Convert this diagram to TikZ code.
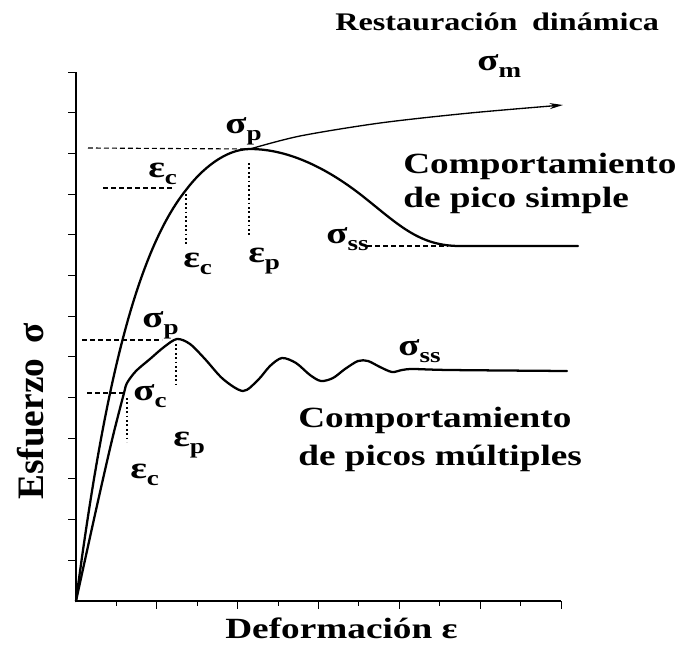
\documentclass[tikz,border=0pt]{standalone}
\usepackage{fontspec}
\setmainfont{Liberation Serif}
\usetikzlibrary{positioning,arrows.meta}
\tikzset{flow/.style={line width=1.7pt,line join=round,line cap=round},
	 guide/.style={line width=0.85pt,dash pattern=on 3.6pt off 2.4pt},
	 drop/.style={line width=1.4pt,dash pattern=on 1.3pt off 2pt},
	 symb/.style={font=\bfseries\fontsize{23}{23}\selectfont,xscale=1.27,anchor=base west,inner sep=0pt},
	 textlbl/.style={font=\bfseries\fontsize{22}{22}\selectfont,xscale=1.27,anchor=base west,inner sep=0pt}
	 }
\newcommand{\lsub}[1]{\raisebox{-.25em}{\fontsize{16}{16}\selectfont #1}}

\begin{document}
\begin{tikzpicture}[x=0.75pt,y=-0.75pt] % curvas esfuerzo-deformacion
	\useasboundingbox (0,0) rectangle (682,644);
	\coordinate (O) at (76,601); \coordinate (ytop) at (76,72); \coordinate (xend) at (561,601);
	\draw[line width=0.8pt] (ytop) -- (O) -- (xend);
	\foreach \k in {1,...,13} \draw[line width=0.8pt] (76,601-40.69*\k) -- ++(-8,0);
	\foreach \k in {2,4,...,12} \draw[line width=0.8pt] (76+40.42*\k,601) -- ++(0,8);
	\foreach \k in {1,3,...,11} \draw[line width=0.8pt] (76+40.42*\k,601) -- ++(0,5);
	% pico simple
	\coordinate (pk1) at (250,149); \coordinate (cr1) at (186,190); \coordinate (dn1) at (365,198);
	\coordinate (ss1) at (460,246); \coordinate (e1) at (578,246); \coordinate (mend) at (563,105);
	\draw[flow] (O) .. controls (100,420) and (130,260) .. (cr1)
		.. controls (201,170) and (225,149) .. (pk1)
		.. controls (290,149) and (330,170) .. (dn1)
		.. controls (400,226) and (420,246) .. (ss1) -- (e1);
	\draw[line width=1pt,-{Stealth[length=10pt,width=4.5pt]}] plot[smooth] coordinates {(pk1) (300,136) (380,123) (470,113) (mend)};
	\coordinate (g1) at (88,148); \coordinate (g2) at (103,188); \coordinate (g3) at (172,188);
	\coordinate (d1) at (186,194); \coordinate (d2) at (186,245);
	\coordinate (d3) at (249,163); \coordinate (d4) at (249,235);
	\coordinate (g4) at (367,246); \coordinate (g5) at (448,246);
	\draw[guide] (g1) -- (pk1); \draw[guide] (g2) -- (g3); \draw[guide] (g4) -- (g5);
	\draw[drop] (d1) -- (d2); \draw[drop] (d3) -- (d4);
	% picos multiples
	\coordinate (pk2) at (177,339); \coordinate (cr2) at (124,393);
	\coordinate (ss2) at (413,369); \coordinate (e2) at (567,371);
	\draw[flow] plot[smooth,tension=.5] coordinates {(O) (96,510) (112,440) (cr2) (127,383) (136,371) (150,359) (164,347) (pk2) (190,344) (205,359) (223,379) (243,391) (258,380) (270,366) (282,358) (296,363) (310,375) (321,381) (333,378) (345,369) (358,361) (368,361) (380,367) (392,372) (402,370) (ss2) (450,370) (e2)};
	\coordinate (h1) at (82,340); \coordinate (h2) at (162,340);
	\coordinate (h3) at (87,393); \coordinate (h4) at (125,393);
	\coordinate (v1) at (127,398); \coordinate (v2) at (127,442);
	\coordinate (v3) at (176,344); \coordinate (v4) at (176,387);
	\draw[guide] (h1) -- (h2); \draw[guide] (h3) -- (h4);
	\draw[drop] (v1) -- (v2); \draw[drop] (v3) -- (v4);
	% etiquetas
	\node[symb] (smx) at (477,70) {σ\lsub{m}};
	\node[symb] (sp1) at (225,133) {σ\lsub{p}};
	\node[symb] (ec1) at (148,177) {ε\lsub{c}};
	\node[symb] (ec1b) at (183,267) {ε\lsub{c}};
	\node[symb] (ep1) at (248,262) {ε\lsub{p}};
	\node[symb] (ss1l) at (326,243) {σ\lsub{ss}};
	\node[symb] (sp2) at (142,327) {σ\lsub{p}};
	\node[symb] (sc2) at (133,400) {σ\lsub{c}};
	\node[symb] (ep2) at (173,446) {ε\lsub{p}};
	\node[symb] (ec2) at (130,478) {ε\lsub{c}};
	\node[symb] (ss2l) at (398,355) {σ\lsub{ss}};
	\node[textlbl,font=\bfseries\fontsize{19}{19}\selectfont] (title) at (335,30) {Restauración\hspace{.45em}dinámica};
	\node[textlbl] (cs1) at (403,173) {Comportamiento};
	\node[textlbl] (cs2) at ([yshift=-26pt]cs1.base west) {de pico simple};
	\node[textlbl] (cm1) at (298,427) {Comportamiento};
	\node[textlbl] (cm2) at ([yshift=-28.5pt]cm1.base west) {de picos múltiples};
	\node[textlbl] (xlab) at (225,638) {Deformación ε};
	\node[font=\bfseries\fontsize{28}{28}\selectfont,rotate=90,anchor=base west,inner sep=0pt] (ylab) at (43,500) {Esfuerzo\hspace{.4em}σ};
\end{tikzpicture}
\end{document}
